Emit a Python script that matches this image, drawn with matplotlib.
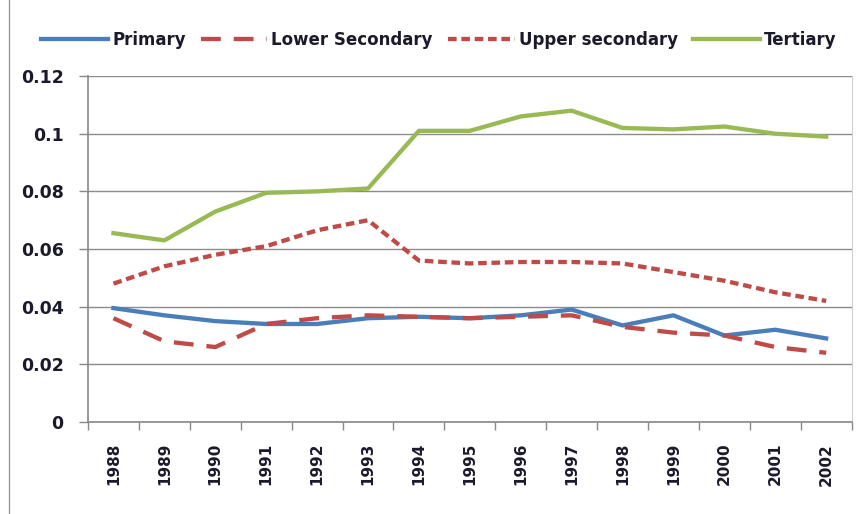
import numpy as np
import matplotlib.pyplot as plt
from matplotlib.lines import Line2D

years = ["1988", "1989", "1990", "1991", "1992", "1993", "1994", "1995",
         "1996", "1997", "1998", "1999", "2000", "2001", "2002"]
primary = [0.0395, 0.037, 0.035, 0.034, 0.034, 0.036, 0.0365, 0.036,
           0.037, 0.039, 0.0335, 0.037, 0.030, 0.032, 0.029]
lower_secondary = [0.036, 0.028, 0.026, 0.034, 0.036, 0.037, 0.0365, 0.036,
                   0.0365, 0.037, 0.033, 0.031, 0.030, 0.026, 0.024]
upper_secondary = [0.048, 0.054, 0.058, 0.061, 0.0665, 0.070, 0.056, 0.055,
                   0.0555, 0.0555, 0.055, 0.052, 0.049, 0.045, 0.042]
tertiary = [0.0655, 0.063, 0.073, 0.0795, 0.080, 0.081, 0.101, 0.101,
            0.106, 0.108, 0.102, 0.1015, 0.1025, 0.100, 0.099]

txt = "#1a1a2a"
fig = plt.figure(figsize=(8.57, 5.14), dpi=100)
ax = fig.add_axes([0.1027, 0.179, 0.891, 0.673])

x = np.arange(len(years))
lw = 3.1
ax.plot(x, primary, color="#4a7ebb", lw=lw, label="Primary")
ax.plot(x, lower_secondary, color="#be4b48", lw=lw, dashes=(4.6, 3.0),
        label="Lower Secondary")
ax.plot(x, upper_secondary, color="#be4b48", lw=lw, dashes=(2.0, 1.1),
        label="Upper secondary")
ax.plot(x, tertiary, color="#98b954", lw=lw, label="Tertiary")

ax.set_xlim(-0.5, len(years) - 0.5)
ax.set_ylim(0, 0.12)
yt = [0, 0.02, 0.04, 0.06, 0.08, 0.1, 0.12]
ax.set_yticks(yt)
ax.set_yticklabels(["0", "0.02", "0.04", "0.06", "0.08", "0.1", "0.12"],
                   fontsize=12.5, fontweight="bold", family="DejaVu Sans",
                   color=txt)
ax.set_xticks(x)
ax.set_xticklabels(years, rotation=90, fontsize=11, fontweight="bold",
                   family="DejaVu Sans", color=txt)
ax.set_xticks(np.arange(-0.5, len(years)), minor=True)
ax.tick_params(axis="x", which="major", length=0, pad=15)
ax.tick_params(axis="x", which="minor", length=6, color="#888888", width=1)
ax.tick_params(axis="y", length=6.5, color="#888888", width=1, pad=11)

ax.yaxis.grid(True, color="#8c8c8c", lw=1)
ax.set_axisbelow(True)
for s in ["left", "bottom"]:
    ax.spines[s].set_color("#888888")
    ax.spines[s].set_linewidth(1.2)
ax.spines["right"].set_color("#d0d0d0")
ax.spines["top"].set_visible(False)

leg = fig.legend(loc="center", bbox_to_anchor=(0.512, 0.922), ncol=4,
                 frameon=False,
                 prop={"family": "DejaVu Sans", "weight": "bold", "size": 12},
                 handlelength=4.0, handletextpad=0.25, columnspacing=0.9)
for t in leg.get_texts():
    t.set_color(txt)

fig.add_artist(Line2D([0.011, 0.011], [0, 1], transform=fig.transFigure,
                      color="#999999", lw=1))

fig.savefig("out.png", dpi=100)
